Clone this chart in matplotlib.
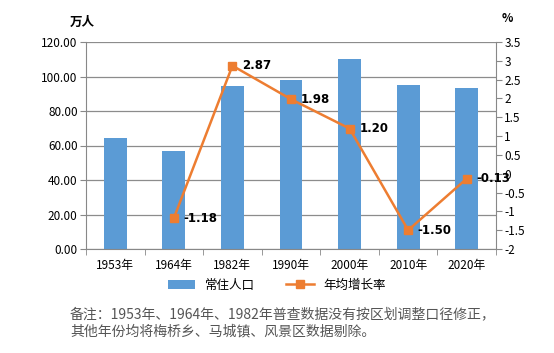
import matplotlib
matplotlib.use("Agg")
import matplotlib.pyplot as plt
import numpy as np

plt.rcParams['font.family'] = ['Noto Sans CJK SC', 'DejaVu Sans']

categories = ["1953年", "1964年", "1982年", "1990年", "2000年", "2010年", "2020年"]
population = [64.2, 56.8, 94.5, 98.0, 110.0, 95.0, 93.3]
growth = [None, -1.18, 2.87, 1.98, 1.20, -1.50, -0.13]
growth_labels = ["", "-1.18", "2.87", "1.98", "1.20", "-1.50", "-0.13"]
left_ticks = [0, 20, 40, 60, 80, 100, 120]
right_ticks = [-2, -1.5, -1, -0.5, 0, 0.5, 1, 1.5, 2, 2.5, 3, 3.5]

bar_color = "#5B9BD5"
line_color = "#ED7D31"

fig = plt.figure(figsize=(5.54, 3.53), dpi=100)
ax = fig.add_axes([86/554, 1-249/353, (496-86)/554, (249-42)/353])
x = np.arange(len(categories))
ax.bar(x, population, width=0.39, color=bar_color, zorder=2, label="常住人口")
ax.set_xlim(-0.5, len(categories)-0.5)
ax.set_ylim(0, 120)
ax.set_yticks(left_ticks)
ax.set_yticklabels([f"{v:.2f}" for v in left_ticks], fontsize=8.5)
ax.set_xticks(x)
ax.set_xticklabels(categories, fontsize=8.5)
ax.set_xticks(np.arange(-0.5, len(categories)), minor=True)
ax.tick_params(axis='x', which='major', length=0, pad=7)
ax.tick_params(axis='x', which='minor', length=4, color="#888888")
ax.tick_params(axis='y', length=4, color="#888888", pad=2)
ax.grid(axis='y', color="#8c8c8c", linewidth=0.9, zorder=0)
for s in ['top', 'right']:
    ax.spines[s].set_visible(False)
ax.spines['left'].set_color("#888888")
ax.spines['bottom'].set_color("#888888")

ax2 = ax.twinx()
gx = [i for i, g in enumerate(growth) if g is not None]
gy = [g for g in growth if g is not None]
ax2.plot(gx, gy, color=line_color, linewidth=1.8, marker='s', markersize=6, zorder=3, label="年均增长率")
ax2.set_ylim(-2, 3.5)
ax2.set_yticks(right_ticks)
ax2.set_yticklabels([f"{v:g}" for v in right_ticks], fontsize=8.5)
ax2.tick_params(axis='y', length=4, color="#888888", pad=2)
for s in ['top', 'left', 'bottom']:
    ax2.spines[s].set_visible(False)
ax2.spines['right'].set_color("#888888")
for i, g in enumerate(growth):
    if g is not None:
        ax2.annotate(growth_labels[i], (i, g), xytext=(7, 0), textcoords='offset points',
                     fontsize=8.5, fontweight='bold', va='center', ha='left',
                     family=['DejaVu Sans'])

fig.text(70/554, 1-22/353, "万人", fontsize=9, fontweight='bold', ha='left', va='center')
fig.text(507/554, 1-19/353, "%", fontsize=8.5, fontweight='bold', ha='center', va='center')

h1, l1 = ax.get_legend_handles_labels()
h2, l2 = ax2.get_legend_handles_labels()
fig.legend(h1 + h2, l1 + l2, loc='center', bbox_to_anchor=(0.5, 1-285/353), ncol=2,
           frameon=False, fontsize=9, handlelength=2.2, columnspacing=2.5)

fig.text(70/554, 1-323/353, "备注：1953年、1964年、1982年普查数据没有按区划调整口径修正，\n其他年份均将梅桥乡、马城镇、风景区数据剔除。",
         fontsize=10, color="#555555", ha='left', va='center', linespacing=1.3)

fig.savefig("out.png", dpi=100)
